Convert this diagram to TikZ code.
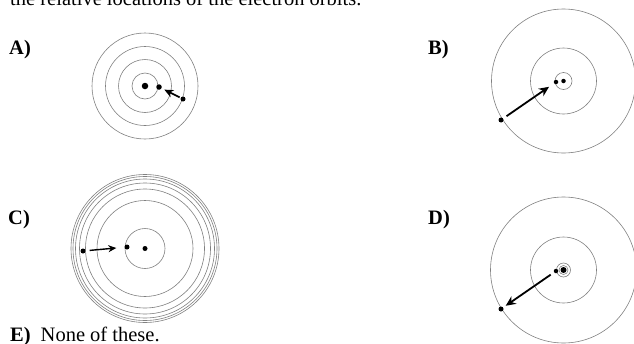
\documentclass[tikz,border=0pt]{standalone}
\usepackage{fontspec}
\setmainfont{Liberation Serif}
\usetikzlibrary{arrows.meta}
\begin{document}
\begin{tikzpicture}[x=1pt,y=-1pt]
		% Styles
		\tikzstyle{orbite}=[draw=gray,line width=0.6pt]
		\tikzstyle{noyau}=[circle,fill=black,inner sep=0pt,minimum size=6pt]
		\tikzstyle{electron}=[circle,fill=black,inner sep=0pt,minimum size=5pt]
		\tikzstyle{fleche}=[->,>={Stealth[length=10pt,width=9pt]},line width=1.8pt]
		\tikzstyle{etiquette}=[anchor=base west,inner sep=0pt,font=\fontsize{20.5}{24}\selectfont\bfseries]
		\tikzstyle{commentaire}=[anchor=base west,inner sep=0pt,font=\fontsize{20.5}{24}\selectfont]
		% Cadre
		\clip (0,0) rectangle (634,343);
		% Textes
		\node[commentaire] (enonce) at (10,5.5) {the relative locations of the electron orbits.};
		\node[etiquette] (lA) at (9,54) {A)};
		\node[etiquette] (lB) at (428,54) {B)};
		\node[etiquette] (lC) at (8,224) {C)};
		\node[etiquette] (lD) at (428,224) {D)};
		\node[commentaire] (lE) at (10,341) {\textbf{E)}\hspace{10pt}None of these.};
		% Atome A
		\foreach \r in {13,26.5,39.5,53}
			\draw[orbite] (145,86) circle (\r pt);
		\node[noyau,minimum size=6.5pt] (NA) at (145,86) {};
		\node[electron,minimum size=5.5pt] (EA1) at (159,87) {};
		\node[electron] (EA2) at (183,99) {};
		% Atome B
		\foreach \r in {8.5,33,72}
			\draw[orbite] (563.5,81) circle (\r pt);
		\node[noyau,minimum size=4.5pt] (NB) at (563.5,81) {};
		\node[electron,minimum size=4.5pt] (EB1) at (556,82) {};
		\node[electron] (EB2) at (501,120) {};
		% Atome C
		\foreach \r in {20,48,59.5,65.5,69.5,72,74}
			\draw[orbite] (145,248.5) circle (\r pt);
		\node[noyau,minimum size=5pt] (NC) at (145,248.5) {};
		\node[electron] (EC1) at (127,247) {};
		\node[electron] (EC2) at (83,251) {};
		% Atome D
		\foreach \r in {4.5,7,33,73}
			\draw[orbite] (563.5,270) circle (\r pt);
		\node[noyau] (ND) at (563.5,270) {};
		\node[electron,minimum size=4.5pt] (ED1) at (556,271) {};
		\node[electron] (ED2) at (501,309) {};
		% Fleches
		\draw[fleche,line width=1.6pt,>={Stealth[length=9pt,width=8pt]},shorten <=1pt,shorten >=3pt] (EA2)--(EA1);
		\draw[fleche,shorten <=4pt,shorten >=6pt] (EB2)--(EB1);
		\draw[fleche,line width=1.4pt,>={Stealth[length=8pt,width=7pt]},shorten <=4pt,shorten >=8pt] (EC2)--(EC1);
		\draw[fleche,shorten <=4pt,shorten >=3pt] (ED1)--(ED2);
	\end{tikzpicture}
\end{document}
